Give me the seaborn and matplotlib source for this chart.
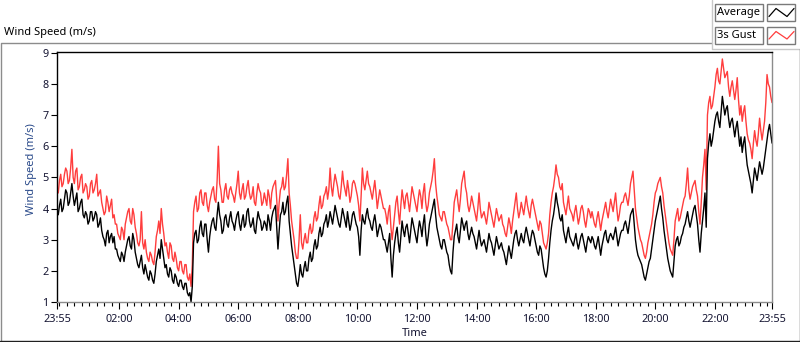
import numpy as np
import pandas as pd
import matplotlib
matplotlib.use("Agg")
import matplotlib.pyplot as plt
import seaborn as sns
from matplotlib.lines import Line2D
from matplotlib.patches import Rectangle

# ---------------- data (2.5-minute samples starting 23:55, one row per hour) ----------------
avg_speed = [
    3.9, 3.8, 4.1, 4.3, 3.9, 4.0, 4.3, 4.6, 4.5, 4.1, 4.2, 4.5, 4.8, 4.4, 4.1, 4.3, 4.5, 3.9, 4.0, 4.2, 4.3, 3.8, 3.7, 3.9,
    3.8, 3.5, 3.6, 3.9, 3.9, 3.6, 3.7, 3.9, 3.8, 3.4, 3.5, 3.7, 3.3, 3.1, 3.0, 2.8, 3.2, 3.3, 2.9, 3.1, 3.2, 2.9, 3.1, 2.7,
    2.7, 2.5, 2.4, 2.3, 2.6, 2.5, 2.3, 2.6, 2.8, 3.0, 3.1, 2.8, 2.7, 3.2, 3.0, 2.6, 2.4, 2.2, 2.1, 2.3, 2.5, 2.1, 1.9, 2.2,
    2.0, 1.8, 1.7, 2.0, 1.9, 1.7, 1.6, 1.9, 2.3, 2.5, 2.7, 2.4, 3.0, 2.7, 2.4, 2.1, 2.2, 1.9, 1.8, 2.1, 2.0, 1.7, 1.6, 1.9,
    1.8, 1.6, 1.5, 1.7, 1.7, 1.5, 1.4, 1.6, 1.6, 1.3, 1.2, 1.3, 1.0, 1.5, 2.9, 3.2, 3.3, 2.9, 3.0, 3.4, 3.6, 3.2, 3.1, 3.5,
    3.5, 3.0, 2.6, 3.1, 3.4, 3.6, 3.7, 3.4, 3.3, 3.8, 4.2, 3.8, 3.6, 3.2, 3.3, 3.7, 3.8, 3.5, 3.4, 3.7, 3.9, 3.6, 3.5, 3.3,
    3.6, 3.8, 3.9, 3.5, 3.3, 3.6, 3.8, 3.4, 3.5, 3.9, 4.0, 3.6, 3.4, 3.5, 3.7, 3.3, 3.2, 3.6, 3.9, 3.7, 3.6, 3.3, 3.4, 3.6,
    3.5, 3.3, 3.8, 3.6, 3.3, 3.7, 3.9, 4.0, 4.1, 3.4, 2.7, 3.3, 3.8, 3.9, 4.2, 3.8, 3.9, 4.2, 4.4, 3.6, 3.2, 2.8, 2.5, 2.2,
    1.9, 1.6, 1.5, 1.8, 2.2, 1.9, 1.8, 2.1, 2.3, 2.0, 2.0, 2.4, 2.6, 2.3, 2.4, 2.8, 3.0, 2.7, 2.8, 3.2, 3.4, 3.1, 3.2, 3.5,
    3.6, 3.8, 3.4, 3.6, 3.9, 3.7, 3.5, 3.8, 4.1, 3.9, 3.7, 3.5, 3.4, 3.7, 4.0, 3.8, 3.6, 3.4, 3.9, 3.6, 3.3, 3.5, 3.8, 3.9,
    3.7, 3.5, 3.4, 3.1, 2.5, 3.3, 3.8, 3.6, 3.5, 3.8, 4.0, 3.7, 3.6, 3.4, 3.3, 3.6, 3.8, 3.5, 3.1, 3.3, 3.5, 3.4, 3.2, 3.0,
    3.0, 2.8, 2.6, 2.9, 3.2, 2.4, 1.8, 2.5, 2.9, 3.2, 3.4, 2.9, 2.6, 3.1, 3.6, 3.3, 3.1, 3.4, 3.5, 3.2, 2.9, 3.3, 3.7, 3.5,
    3.3, 3.1, 2.9, 3.3, 3.6, 3.4, 3.1, 3.5, 3.8, 3.2, 2.8, 3.1, 3.5, 3.7, 3.9, 4.1, 4.3, 3.8, 3.4, 3.2, 3.0, 2.8, 2.7, 3.0,
    3.0, 2.8, 2.6, 2.5, 2.2, 2.0, 1.9, 2.6, 3.1, 3.3, 3.5, 3.1, 2.9, 3.3, 3.7, 3.5, 3.3, 3.5, 3.6, 3.2, 3.0, 3.2, 3.4, 3.2,
    3.1, 2.9, 2.7, 3.0, 3.3, 3.0, 2.8, 2.9, 3.0, 2.8, 2.6, 2.9, 3.2, 3.0, 2.9, 2.7, 2.5, 2.8, 3.1, 2.9, 2.7, 2.8, 2.9, 2.7,
    2.6, 2.4, 2.2, 2.5, 2.8, 2.6, 2.4, 2.7, 3.0, 3.2, 3.3, 3.0, 2.8, 3.0, 3.2, 3.0, 2.9, 3.2, 3.4, 3.2, 3.0, 2.8, 3.1, 3.3,
    3.2, 3.0, 2.8, 2.6, 2.5, 2.8, 2.7, 2.4, 2.1, 1.9, 1.8, 2.0, 2.4, 2.9, 3.3, 3.6, 3.8, 4.1, 4.5, 4.2, 4.0, 3.7, 3.6, 3.8,
    3.3, 3.1, 2.9, 3.2, 3.4, 3.1, 3.0, 2.9, 2.8, 3.0, 3.2, 2.9, 2.7, 2.9, 3.1, 3.2, 3.0, 2.8, 2.6, 2.9, 3.1, 3.0, 2.9, 3.1,
    3.0, 2.8, 2.7, 2.9, 3.1, 2.8, 2.5, 2.8, 3.0, 3.2, 3.3, 3.0, 2.9, 3.1, 3.2, 3.1, 3.0, 3.2, 3.4, 3.1, 2.8, 3.0, 3.2, 3.3,
    3.3, 3.5, 3.6, 3.4, 3.2, 3.5, 3.8, 3.9, 4.0, 3.5, 3.0, 2.7, 2.5, 2.4, 2.3, 2.2, 2.0, 1.8, 1.7, 1.9, 2.1, 2.3, 2.4, 2.7,
    3.0, 3.3, 3.6, 3.8, 4.0, 4.2, 4.4, 4.0, 3.7, 3.3, 3.0, 2.7, 2.4, 2.2, 2.0, 1.9, 1.8, 2.3, 2.8, 3.0, 3.1, 2.8, 2.9, 3.1,
    3.2, 3.4, 3.5, 3.7, 3.9, 3.6, 3.4, 3.6, 3.8, 4.0, 4.1, 3.8, 3.5, 3.0, 2.6, 3.2, 3.6, 4.0, 4.5, 3.4, 5.6, 6.1, 6.4, 6.0,
    6.2, 6.5, 6.8, 7.0, 7.1, 6.8, 6.6, 7.1, 7.6, 7.3, 7.0, 7.2, 7.3, 6.9, 6.6, 6.8, 6.9, 6.6, 6.3, 6.6, 6.8, 6.4, 6.0, 6.3,
    5.8, 6.1, 6.3, 5.8, 5.4, 5.2, 5.0, 4.8, 4.5, 4.9, 5.3, 5.1, 4.9, 5.2, 5.5, 5.3, 5.1, 5.3, 5.6, 5.9, 6.2, 6.5, 6.7, 6.4, 6.1,
]
gust_speed = [
    4.6, 4.5, 4.9, 5.1, 4.7, 4.8, 5.1, 5.3, 5.2, 4.8, 4.9, 5.3, 5.9, 5.0, 4.8, 5.2, 5.3, 4.6, 4.7, 5.0, 5.1, 4.5, 4.6, 4.8,
    4.7, 4.3, 4.4, 4.8, 4.9, 4.5, 4.6, 4.8, 5.1, 4.4, 4.5, 4.6, 4.2, 4.0, 3.8, 3.9, 4.4, 4.2, 3.9, 4.1, 4.3, 3.7, 3.8, 3.5,
    3.5, 3.2, 3.1, 3.0, 3.4, 3.3, 3.0, 3.5, 3.7, 3.9, 4.0, 3.6, 3.5, 4.0, 3.8, 3.4, 3.2, 2.9, 2.8, 3.0, 3.9, 2.9, 2.7, 3.0,
    2.6, 2.4, 2.3, 2.6, 2.5, 2.3, 2.2, 2.6, 3.1, 3.3, 3.6, 3.2, 4.0, 3.5, 3.2, 2.8, 2.9, 2.6, 2.4, 2.9, 2.8, 2.4, 2.3, 2.6,
    2.4, 2.1, 2.0, 2.3, 2.3, 2.0, 1.9, 2.2, 2.2, 1.8, 1.7, 1.9, 1.5, 2.2, 3.9, 4.2, 4.4, 3.9, 4.0, 4.5, 4.6, 4.2, 4.1, 4.5,
    4.5, 4.1, 3.9, 4.2, 4.4, 4.6, 4.7, 4.3, 4.2, 4.9, 6.0, 4.8, 4.6, 4.2, 4.2, 4.6, 4.8, 4.4, 4.3, 4.6, 4.7, 4.5, 4.4, 4.2,
    4.5, 4.8, 5.2, 4.5, 4.3, 4.6, 4.8, 4.3, 4.4, 4.7, 4.9, 4.5, 4.3, 4.4, 4.7, 4.2, 4.1, 4.5, 4.8, 4.6, 4.5, 4.1, 4.2, 4.5,
    4.3, 4.1, 4.6, 4.4, 4.0, 4.5, 4.7, 4.8, 4.9, 4.3, 3.6, 4.2, 4.6, 4.7, 5.0, 4.6, 4.7, 5.1, 5.6, 4.5, 4.1, 3.6, 3.3, 3.0,
    2.6, 2.4, 2.4, 3.0, 3.8, 2.9, 2.7, 3.0, 3.2, 2.9, 2.9, 3.3, 3.5, 3.2, 3.3, 3.7, 3.9, 3.6, 3.7, 4.1, 4.4, 4.0, 4.1, 4.4,
    4.5, 4.7, 4.3, 4.6, 5.3, 4.7, 4.4, 4.8, 5.1, 4.9, 4.7, 4.4, 4.3, 4.7, 5.2, 4.8, 4.6, 4.4, 4.9, 4.6, 4.2, 4.4, 4.8, 4.9,
    4.8, 4.6, 4.4, 4.1, 3.6, 4.4, 5.3, 4.8, 4.6, 4.9, 5.2, 4.8, 4.7, 4.5, 4.3, 4.6, 4.9, 4.5, 4.0, 4.3, 4.6, 4.4, 4.2, 4.0,
    4.0, 3.8, 3.5, 3.9, 4.1, 3.4, 3.0, 3.4, 3.8, 4.2, 4.4, 3.9, 3.5, 4.1, 4.6, 4.3, 4.0, 4.4, 4.5, 4.2, 3.9, 4.3, 4.7, 4.5,
    4.3, 4.1, 3.9, 4.3, 4.6, 4.4, 4.0, 4.5, 4.8, 4.2, 3.9, 4.1, 4.5, 4.7, 4.9, 5.2, 5.6, 4.8, 4.4, 4.1, 3.8, 3.7, 3.6, 3.9,
    3.9, 3.7, 3.5, 3.4, 3.2, 3.0, 3.0, 3.6, 4.2, 4.4, 4.6, 4.2, 3.9, 4.3, 4.8, 5.0, 5.2, 4.7, 4.5, 4.1, 3.9, 4.1, 4.4, 4.2,
    4.0, 3.8, 3.6, 4.0, 4.5, 4.0, 3.7, 3.8, 3.9, 3.7, 3.5, 3.8, 4.2, 4.0, 3.8, 3.6, 3.4, 3.7, 4.0, 3.8, 3.6, 3.7, 3.8, 3.5,
    3.4, 3.2, 3.1, 3.4, 3.7, 3.5, 3.2, 3.6, 3.9, 4.2, 4.5, 4.0, 3.7, 3.9, 4.2, 4.0, 3.8, 4.1, 4.4, 4.1, 3.9, 3.7, 4.1, 4.3,
    4.1, 3.9, 3.7, 3.5, 3.3, 3.6, 3.5, 3.2, 2.9, 2.8, 2.7, 2.9, 3.2, 3.8, 4.2, 4.5, 4.7, 5.0, 5.4, 5.1, 5.0, 4.7, 4.6, 4.8,
    4.2, 4.0, 3.8, 4.1, 4.4, 4.0, 3.9, 3.8, 3.6, 3.9, 4.1, 3.8, 3.5, 3.7, 4.0, 4.1, 3.9, 3.6, 3.4, 3.7, 4.0, 3.9, 3.7, 3.9,
    3.7, 3.5, 3.4, 3.7, 3.9, 3.6, 3.3, 3.6, 3.8, 4.0, 4.2, 3.9, 3.7, 4.0, 4.3, 4.1, 3.9, 4.2, 4.5, 4.0, 3.6, 3.8, 4.1, 4.2,
    4.2, 4.4, 4.5, 4.3, 4.1, 4.4, 4.8, 5.0, 5.2, 4.6, 4.0, 3.7, 3.4, 3.2, 3.0, 2.9, 2.7, 2.5, 2.4, 2.6, 2.9, 3.1, 3.3, 3.5,
    3.8, 4.2, 4.5, 4.6, 4.8, 4.9, 5.0, 4.7, 4.5, 4.1, 3.8, 3.5, 3.2, 2.9, 2.7, 2.6, 2.5, 3.0, 3.6, 3.8, 4.0, 3.6, 3.7, 3.9,
    4.1, 4.3, 4.4, 4.8, 5.3, 4.6, 4.3, 4.5, 4.7, 4.8, 4.9, 4.6, 4.4, 3.9, 3.5, 4.2, 5.0, 5.4, 5.9, 4.6, 7.0, 7.4, 7.6, 7.2,
    7.3, 7.6, 7.9, 8.3, 8.5, 8.1, 8.0, 8.4, 8.8, 8.5, 8.2, 8.3, 8.4, 7.9, 7.6, 7.9, 8.1, 7.8, 7.5, 7.8, 8.2, 7.5, 7.0, 7.3,
    6.8, 7.1, 7.3, 6.8, 6.4, 6.2, 6.1, 5.9, 5.6, 6.1, 6.5, 6.2, 6.0, 6.4, 6.9, 6.5, 6.2, 6.5, 6.8, 7.4, 8.3, 8.0, 7.9, 7.6, 7.4,
]
minutes = np.arange(len(avg_speed)) * 2.5          # minutes after 23:55
tick_minutes = [0, 125, 245, 365, 485, 605, 725, 845, 965, 1085, 1205, 1325, 1440]
tick_labels = ["23:55", "02:00", "04:00", "06:00", "08:00", "10:00", "12:00",
               "14:00", "16:00", "18:00", "20:00", "22:00", "23:55"]
y_ticks = [1, 2, 3, 4, 5, 6, 7, 8, 9]

n = min(len(avg_speed), len(gust_speed))
df = pd.DataFrame({"Time": minutes[:n], "Average": avg_speed[:n], "3s Gust": gust_speed[:n]})

# ---------------- styling ----------------
sns.set_style("white")
plt.rcParams["font.family"] = ["Noto Sans", "DejaVu Sans"]

W, H = 800, 342
fig = plt.figure(figsize=(W / 100, H / 100), dpi=100)
fig.patch.set_facecolor("white")

def fx(x):
    return x / W

def fy(y):
    return 1 - y / H

ax = fig.add_axes([fx(57), fy(302), fx(772) - fx(57), fy(51.5) - fy(302)])

RED = "#ff3d3d"
sns.lineplot(data=df, x="Time", y="3s Gust", ax=ax, color=RED, linewidth=1.0)
sns.lineplot(data=df, x="Time", y="Average", ax=ax, color="black", linewidth=1.0)

ax.set_xlim(0, 1440)
ax.set_ylim(1, 9.04)
ax.set_xticks(tick_minutes)
ax.set_xticklabels(tick_labels)
minor = [m for m in range(5, 1440, 15) if m not in tick_minutes]
ax.set_xticks(minor, minor=True)
ax.set_yticks(y_ticks)
ax.set_yticklabels([str(v) for v in y_ticks])

tick_col = "#141432"
ax.tick_params(axis="x", which="major", direction="out", length=5, width=0.8,
               color="black", labelsize=7.8, labelcolor=tick_col, pad=4, bottom=True)
ax.tick_params(axis="x", which="minor", direction="out", length=3, width=0.8,
               color="black", bottom=True)
ax.tick_params(axis="y", which="major", direction="out", length=4, width=0.8,
               color="black", labelsize=7.8, labelcolor=tick_col, pad=2, left=True)

ax.set_xlabel("Time", fontsize=8, color="#141432", labelpad=2)
ax.set_ylabel("Wind Speed (m/s)", fontsize=8, color="#2a4a8a")
ax.yaxis.set_label_coords(-0.028, 0.531)
ax.grid(False)

for side in ["left", "top"]:
    ax.spines[side].set_color("black")
    ax.spines[side].set_linewidth(1.0)
for side in ["right", "bottom"]:
    ax.spines[side].set_color("#8c8c8c")
    ax.spines[side].set_linewidth(1.0)

# ---------------- outer frame and title ----------------
def fline(xs, ys, color, lw=1.0):
    fig.add_artist(Line2D([fx(x) for x in xs], [fy(y) for y in ys],
                          color=color, linewidth=lw, transform=fig.transFigure))

fline([0.5, 0.5, 711.5], [341, 42.5, 42.5], "#8c8c8c")
fline([711.5, 711.5, 800], [0, 48.5, 48.5], "#c8c8c8")
fline([799.5, 799.5], [48.5, 341], "#505050")
fline([0, 800], [340.5, 340.5], "#202020")

fig.text(fx(4), fy(32), "Wind Speed (m/s)", fontsize=8, color="black",
         ha="left", va="center")

# ---------------- legend panel ----------------
legend_rows = [("Average", "black", 4, 21), ("3s Gust", RED, 27, 43.5)]
for label, col, y0, y1 in legend_rows:
    for (bx0, bx1) in [(715, 763), (767, 795)]:
        fig.add_artist(Rectangle((fx(bx0), fy(y1)), fx(bx1) - fx(bx0), fy(y0) - fy(y1),
                                 transform=fig.transFigure, facecolor="white",
                                 edgecolor="#7a7a7a", linewidth=1.0))
    fig.text(fx(717), fy((y0 + y1) / 2 + 0.5), label, fontsize=8, color="black",
             ha="left", va="center")
    yl, yh = y1 - 4.5, y0 + 4.5
    fline([769, 776, 787, 794], [yl, yh, yl, yh], col, lw=0.9)

fig.savefig("out.png", dpi=100, facecolor="white")
